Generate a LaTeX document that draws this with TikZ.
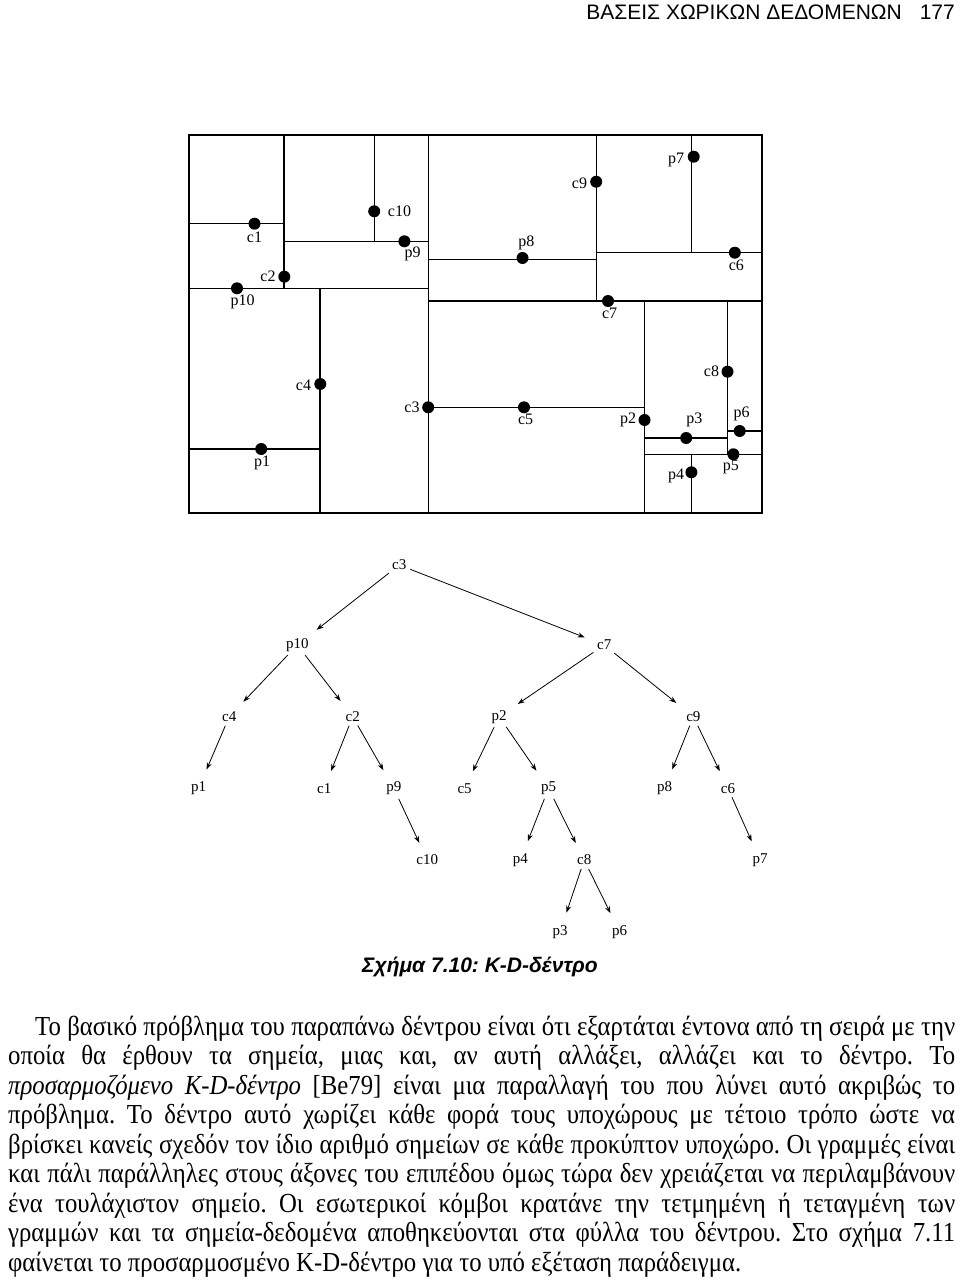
\documentclass[tikz,border=0pt]{standalone}
\usepackage{fontspec}
\setmainfont{Liberation Serif}
\newfontfamily\hdfont{Liberation Sans}
\newfontfamily\bodyfont[FakeStretch=0.9]{Liberation Serif}
\newfontfamily\lblfont{Liberation Serif}
\usetikzlibrary{arrows.meta}
\tikzset{
 x=1pt,y=-1pt,
 part/.style={line width=1.4pt},
 pt/.style={circle,fill=black,inner sep=0pt,minimum size=12pt},
 lbl/.style={font=\lblfont\fontsize{16}{16}\selectfont,inner sep=0pt},
 tn/.style={font=\lblfont\fontsize{15}{15}\selectfont,inner sep=1pt},
 edge/.style={-{Stealth[length=7pt,width=5pt]},line width=0.8pt,shorten <=3pt,shorten >=12pt},
 bline/.style={anchor=base west,inner sep=0pt,font=\bodyfont\fontsize{27.5}{27.5}\selectfont}
}
\newcommand{\jl}[1]{\makebox[947pt][s]{#1}}
\begin{document}
\frenchspacing
\begin{tikzpicture}
\useasboundingbox (0,0) rectangle (960,1284);
% header
\node[anchor=base east,inner sep=0pt,font=\hdfont\fontsize{21}{21}\selectfont] (hdr) at (955,20) {ΒΑΣΕΙΣ ΧΩΡΙΚΩΝ ΔΕΔΟΜΕΝΩΝ\hspace{18pt}177};
% plot partitions
\draw[part] (189,135) rectangle (762,513);
\draw[part] (189,223.7) -- (284,223.7);
\draw[part] (284,241.3) -- (428,241.3);
\draw[part] (189,288.3) -- (428,288.3);
\draw[part] (189,449) -- (320,449);
\draw[part] (320,288.3) -- (320,513);
\draw[part] (284,135) -- (284,288.3);
\draw[part] (374.2,135) -- (374.2,241.3);
\draw[part] (428.2,135) -- (428.2,513);
\draw[part] (428,259.3) -- (596.2,259.3);
\draw[part] (596.2,135) -- (596.2,301);
\draw[part] (596.2,252.7) -- (762,252.7);
\draw[part] (691.4,135) -- (691.4,252.7);
\draw[part] (428,301) -- (762,301);
\draw[part] (428,407.3) -- (644.5,407.3);
\draw[part] (644.5,301) -- (644.5,513);
\draw[part] (727.5,301) -- (727.5,454.3);
\draw[part] (644.5,438) -- (727.5,438);
\draw[part] (644.5,454.3) -- (762,454.3);
\draw[part] (727.5,431) -- (762,431);
\draw[part] (691.4,454.3) -- (691.4,513);
% points
\node[pt] (Pc1) at (254.5,223.7) {};   \node[lbl] (Lc1) at (254.5,237) {c1};
\node[pt] (Pc10) at (374.2,211.3) {};  \node[lbl] (Lc10) at (399.5,211) {c10};
\node[pt] (Pp9) at (404.4,241.3) {};   \node[lbl] (Lp9) at (412.5,254) {p9};
\node[pt] (Pc2) at (284.3,276.7) {};   \node[lbl] (Lc2) at (268,276.7) {c2};
\node[pt] (Pp10) at (237,288.3) {};    \node[lbl] (Lp10) at (242.6,302) {p10};
\node[pt] (Pc4) at (320.3,384) {};     \node[lbl] (Lc4) at (303.5,385) {c4};
\node[pt] (Pp1) at (261.2,449) {};     \node[lbl] (Lp1) at (262,463) {p1};
\node[pt] (Pc3) at (428.2,407.3) {};   \node[lbl] (Lc3) at (412,407) {c3};
\node[pt] (Pc5) at (524,407.3) {};     \node[lbl] (Lc5) at (525.6,419) {c5};
\node[pt] (Pp8) at (522.5,258) {};     \node[lbl] (Lp8) at (526.3,243) {p8};
\node[pt] (Pc9) at (596.2,181.7) {};   \node[lbl] (Lc9) at (579.5,183) {c9};
\node[pt] (Pp7) at (693.7,156.7) {};   \node[lbl] (Lp7) at (676,160) {p7};
\node[pt] (Pc6) at (734.8,252.7) {};   \node[lbl] (Lc6) at (736.3,265) {c6};
\node[pt] (Pc7) at (608,301) {};       \node[lbl] (Lc7) at (609.6,313) {c7};
\node[pt] (Pp2) at (644.5,420) {};     \node[lbl] (Lp2) at (628,420) {p2};
\node[pt] (Pp3) at (686.2,438) {};     \node[lbl] (Lp3) at (694.4,420) {p3};
\node[pt] (Pc8) at (727.5,371.7) {};   \node[lbl] (Lc8) at (711.5,371.7) {c8};
\node[pt] (Pp6) at (739.7,431) {};     \node[lbl] (Lp6) at (741.6,414) {p6};
\node[pt] (Pp5) at (733.4,454.3) {};   \node[lbl] (Lp5) at (730.8,467) {p5};
\node[pt] (Pp4) at (691.4,472.3) {};   \node[lbl] (Lp4) at (676,476) {p4};
% tree
\node[tn] (c3) at (399.2,565) {c3};
\node[tn] (p10) at (297.3,645) {p10};
\node[tn] (c7) at (604.2,645) {c7};
\node[tn] (c4) at (229.2,716.7) {c4};
\node[tn] (c2) at (352.7,716.7) {c2};
\node[tn] (p2) at (499.2,716.7) {p2};
\node[tn] (c9) at (693.4,716.7) {c9};
\node[tn] (p1) at (198.5,788.3) {p1};
\node[tn] (c1) at (324.2,788.3) {c1};
\node[tn] (p9) at (393.8,788.3) {p9};
\node[tn] (c5) at (464.6,788.3) {c5};
\node[tn] (p5) at (548.5,788.3) {p5};
\node[tn] (p8) at (664.6,788.3) {p8};
\node[tn] (c6) at (728,788.3) {c6};
\node[tn] (c10) at (427.3,860) {c10};
\node[tn] (p4) at (520.4,860) {p4};
\node[tn] (c8) at (584.2,860) {c8};
\node[tn] (p7) at (760,860) {p7};
\node[tn] (p3) at (560,931.7) {p3};
\node[tn] (p6) at (619.6,931.7) {p6};
\foreach \a/\b in {c3/p10,c3/c7,p10/c4,p10/c2,c7/p2,c7/c9,c4/p1,c2/c1,c2/p9,p2/c5,p2/p5,c9/p8,c9/c6,p9/c10,p5/p4,p5/c8,c6/p7,c8/p3,c8/p6}
  \draw[edge] (\a) -- (\b);
% caption
\node[inner sep=0pt,font=\hdfont\fontsize{21}{21}\selectfont\bfseries\itshape] (cap) at (480,967) {Σχήμα 7.10: K-D-δέντρο};
% body text
\node[bline] (l1) at (35,1035) {\makebox[920pt][s]{Το βασικό πρόβλημα του παραπάνω δέντρου είναι ότι εξαρτάται έντονα από τη σειρά με την}};
\node[bline] (l2) at (8,1064.5) {\jl{οποία θα έρθουν τα σημεία, μιας και, αν αυτή αλλάξει, αλλάζει και το δέντρο. Το}};
\node[bline] (l3) at (8,1094) {\jl{\textit{προσαρμοζόμενο K-D-δέντρο} [Be79] είναι μια παραλλαγή του που λύνει αυτό ακριβώς το}};
\node[bline] (l4) at (8,1123.5) {\jl{πρόβλημα. Το δέντρο αυτό χωρίζει κάθε φορά τους υποχώρους με τέτοιο τρόπο ώστε να}};
\node[bline] (l5) at (8,1153) {\jl{βρίσκει κανείς σχεδόν τον ίδιο αριθμό σημείων σε κάθε προκύπτον υποχώρο. Οι γραμμές είναι}};
\node[bline] (l6) at (8,1182.5) {\jl{και πάλι παράλληλες στους άξονες του επιπέδου όμως τώρα δεν χρειάζεται να περιλαμβάνουν}};
\node[bline] (l7) at (8,1212) {\jl{ένα τουλάχιστον σημείο. Οι εσωτερικοί κόμβοι κρατάνε την τετμημένη ή τεταγμένη των}};
\node[bline] (l8) at (8,1241.5) {\jl{γραμμών και τα σημεία-δεδομένα αποθηκεύονται στα φύλλα του δέντρου. Στο σχήμα 7.11}};
\node[bline] (l9) at (8,1271) {φαίνεται το προσαρμοσμένο K-D-δέντρο για το υπό εξέταση παράδειγμα.};
\end{tikzpicture}
\end{document}
